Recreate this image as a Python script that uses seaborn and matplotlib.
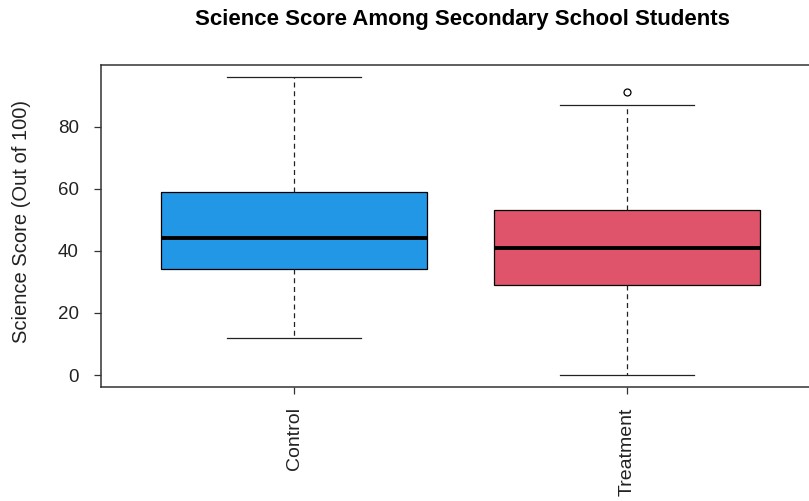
import matplotlib
matplotlib.use("Agg")
import matplotlib.pyplot as plt
import seaborn as sns
import pandas as pd

plt.rcParams['font.family'] = ['Liberation Sans', 'DejaVu Sans']

# Science scores by group (out of 100)
groups = ["Control", "Treatment"]
control_scores = [12, 34, 44, 59, 96]
treatment_scores = [0, 29, 29, 41, 41, 53, 53, 87, 91]
group_colors = ["#2297E6", "#DF536B"]

df = pd.DataFrame({
    "group": ["Control"] * len(control_scores) + ["Treatment"] * len(treatment_scores),
    "score": control_scores + treatment_scores,
})

fig = plt.figure(figsize=(8.09, 5.01), dpi=100)
ax = fig.add_axes([101 / 809, 114 / 501, 719 / 809, 322 / 501])

sns.boxplot(
    data=df, x="group", y="score", hue="group", order=groups,
    palette=group_colors, saturation=1, width=0.8, linecolor="black",
    linewidth=0.9, whis=1.5, legend=False, ax=ax,
    whiskerprops={"linestyle": (0, (4, 3)), "color": "#222222"},
    medianprops={"linewidth": 2.8, "color": "black"},
    capprops={"color": "#222222"},
    flierprops={"marker": "o", "markerfacecolor": "white",
                "markeredgecolor": "black", "markersize": 5,
                "markeredgewidth": 0.9},
)

ax.set_xlim(-0.58, 1.58)
ax.set_ylim(-3.84, 99.84)
ax.set_yticks([0, 20, 40, 60, 80])
ax.set_xlabel("")
ax.set_ylabel("Science Score (Out of 100)", fontsize=14.5, color="#222222", va="center")
ax.yaxis.set_label_coords(-79 / 719, 0.514)
ax.tick_params(axis="y", labelsize=13.5, length=5, width=0.9, colors="#333333",
               labelcolor="#222222", pad=11)
ax.tick_params(axis="x", labelsize=14, length=5, width=0.9, colors="#333333",
               labelcolor="#222222", labelrotation=90, pad=9.5)
for s in ax.spines.values():
    s.set_linewidth(1.1)
    s.set_color("#333333")

fig.text(462 / 809, 1 - 20 / 501, "Science Score Among Secondary School Students",
         ha="center", va="center", fontsize=16, fontweight="bold")

fig.savefig("out.png", dpi=100)
